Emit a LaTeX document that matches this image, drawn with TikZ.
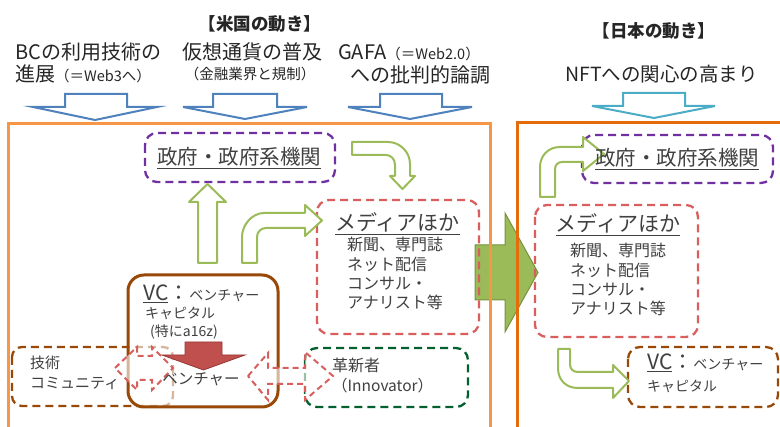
\documentclass[tikz,border=0pt]{standalone}
\usepackage{fontspec}
\setmainfont{Noto Sans CJK JP}
\newcommand{\myfs}[1]{\fontsize{#1}{#1}\selectfont}
\definecolor{arrblue}{RGB}{79,129,189}
\definecolor{arrcyan}{RGB}{75,172,198}
\definecolor{orgL}{RGB}{247,150,70}
\definecolor{orgR}{RGB}{228,108,10}
\definecolor{grn}{RGB}{155,187,89}
\definecolor{grnd}{RGB}{118,146,60}
\definecolor{purp}{RGB}{112,48,160}
\definecolor{redd}{RGB}{217,94,94}
\definecolor{brn}{RGB}{152,72,7}
\definecolor{dgrn}{RGB}{0,97,47}
\definecolor{redf}{RGB}{192,80,77}
\definecolor{redb}{RGB}{150,55,52}
\definecolor{txtc}{RGB}{38,38,38}
\definecolor{txti}{RGB}{64,64,64}
\begin{document}
\begin{tikzpicture}[x=1pt,y=-1pt,
  bluearr/.style={draw=arrblue, line width=2pt, line join=miter},
  grnarr/.style={draw=grn, line width=2pt, fill=white, line join=round},
  dbox/.style={line width=2.3pt, dash pattern=on 8pt off 5pt, rounded corners=12pt},
  dbl/.style={draw=redd, line width=2pt, dash pattern=on 6pt off 4pt, fill=white, fill opacity=0.6},
  txt/.style={inner sep=0pt, anchor=base west, text=txtc},
  itx/.style={inner sep=0pt, anchor=base west, text=txti},
]
\useasboundingbox (0,0) rectangle (780,427);
\clip (0,0) rectangle (780,427);
\fill[white] (0,0) rectangle (780,427);

% blue input arrows
\draw[bluearr] (65,94) -- (127,94) -- (127,107) -- (157,107) -- (95,120) -- (33,107) -- (65,107) -- cycle;
\draw[bluearr] (213,94) -- (277,94) -- (277,107) -- (307,107) -- (245,119) -- (183,107) -- (213,107) -- cycle;
\draw[bluearr] (380,94) -- (442,94) -- (442,107) -- (472,107) -- (410,119) -- (348,107) -- (380,107) -- cycle;
\draw[bluearr,draw=arrcyan] (623,93) -- (685,93) -- (685,106) -- (715,106) -- (654,118) -- (592,106) -- (623,106) -- cycle;

% big green arrow
\draw[fill=grn, draw=grnd, line width=1pt, line join=miter] (475,245) -- (505,245) -- (505,213) -- (538,272.5) -- (505,332) -- (505,300) -- (475,300) -- cycle;

% orange frames
\draw[orgL, line width=3pt] (8,124) rectangle (490,445);
\draw[orgR, line width=3pt] (517,123) rectangle (795,445);

% dashed boxes
\draw[dbox, purp] (145,133) rectangle (335,182);
\draw[dbox, redd] (317,200) rectangle (479,334);
\draw[dbox, purp] (582,135) rectangle (773,183);
\draw[dbox, redd] (535,205) rectangle (698,337);
\draw[dbox, dgrn] (305,348) rectangle (468,407);
\draw[dbox, brn] (628,347) rectangle (778,407);
\draw[dbox, brn, rounded corners=10pt] (12,347) rectangle (173,406);

% green outline arrows
\draw[grnarr] (198,263) -- (198,202) -- (189,202) -- (207.5,184) -- (226,202) -- (217,202) -- (217,263) -- cycle;
\draw[grnarr] (242,263) -- (242,237) .. controls (242,225) and (252,213) .. (264,213) -- (305,213) -- (305,205) -- (322,220.5) -- (305,236) -- (305,228) -- (266,228) .. controls (261,228) and (257,232) .. (257,237) -- (257,263) -- cycle;
\draw[grnarr] (352,142) -- (388,142) .. controls (400,142) and (410,152) .. (410,164) -- (410,176) -- (415,176) -- (402.5,189) -- (390,176) -- (395,176) -- (395,165) .. controls (395,159) and (391,155) .. (386,155) -- (352,155) -- cycle;
\draw[grnarr] (540,197) -- (540,167) .. controls (540,156) and (548,147) .. (560,147) -- (583,147) -- (583,137) -- (604,154) -- (583,171) -- (583,162) -- (562,162) .. controls (558,162) and (555,165) .. (555,169) -- (555,197) -- cycle;
\draw[grnarr] (558,349) -- (570,349) -- (570,364) .. controls (570,369) and (573,372) .. (578,372) -- (613,372) -- (613,365) -- (629,381) -- (613,398) -- (613,388) -- (578,388) .. controls (566,388) and (558,380) .. (558,368) -- cycle;

% VC box
\draw[brn, line width=3pt, rounded corners=16pt, fill=white, fill opacity=0.6] (128,275) rectangle (278,407);
% red down arrow
\draw[fill=redf, draw=redb, line width=0.8pt, line join=miter] (185,342) -- (222,342) -- (222,355) -- (245,355) -- (203.5,370) -- (162,355) -- (185,355) -- cycle;
% red double arrows
\draw[dbl] (115,368) -- (137,347) -- (137,356) -- (152,356) -- (152,347) -- (173,368) -- (152,390) -- (152,380) -- (137,380) -- (137,390) -- cycle;
\draw[dbl] (248,376) -- (268,353) -- (268,368) -- (305,368) -- (305,352) -- (333,376) -- (305,400) -- (305,384) -- (268,384) -- (268,400) -- cycle;

% top texts
\node[txt] (t1) at (15,60) {\myfs{20}BCの利用技術の};
\node[txt] (t2) at (15,82) {\myfs{20}進展\myfs{14.5}（＝Web3へ）};
\node[txt, anchor=base] (t3) at (260,31) {\myfs{17.5}\bfseries 【米国の動き】};
\node[txt] (t4) at (182,60) {\myfs{20}仮想通貨の普及};
\node[txt, anchor=base] (t5) at (250,80) {\myfs{14.5}（金融業界と規制）};
\node[txt] (t6) at (338,60) {\myfs{20}GAFA\myfs{14.5}（＝Web2.0）};
\node[txt] (t7) at (350,83) {\myfs{20}への批判的論調};
\node[txt, anchor=base] (t8) at (654,38) {\myfs{17.5}\bfseries 【日本の動き】};
\node[txt] (t9) at (565,82) {\myfs{19.5}NFTへの関心の高まり};

% inner texts
\node[itx, anchor=base] (g1) at (239,165) {\myfs{20.5}\underline{政府・政府系機関}};
\node[itx, anchor=base] (g2) at (677,166) {\myfs{20.5}\underline{政府・政府系機関}};

\node[itx, anchor=base] (m1) at (397.5,231) {\myfs{21}\underline{メディアほか}};
\node[itx] (m1a) at (347,251) {\myfs{16}新聞、専門誌};
\node[itx] (m1b) at (347,271) {\myfs{16}ネット配信};
\node[itx] (m1c) at (347,290) {\myfs{16}コンサル・};
\node[itx] (m1d) at (347,309) {\myfs{16}アナリスト等};

\node[itx, anchor=base] (m2) at (618,232) {\myfs{21}\underline{メディアほか}};
\node[itx] (m2a) at (570,257) {\myfs{16}新聞、専門誌};
\node[itx] (m2b) at (570,277) {\myfs{16}ネット配信};
\node[itx] (m2c) at (570,296) {\myfs{16}コンサル・};
\node[itx] (m2d) at (570,315) {\myfs{16}アナリスト等};

\node[itx] (vc1) at (143,301) {\myfs{21}\underline{VC}：\myfs{14}ベンチャー};
\node[itx] (vc2) at (145,319) {\myfs{14}キャピタル};
\node[itx] (vc3) at (150,337) {\myfs{14}(特にa16z)};
\node[itx, anchor=base] (vc4) at (201,385) {\myfs{15.5}ベンチャー};

\node[itx] (tc1) at (30,369) {\myfs{15}技術};
\node[itx] (tc2) at (30,389) {\myfs{15}コミュニティ};

\node[itx] (in1) at (332,372) {\myfs{16}革新者};
\node[itx] (in2) at (332,392) {\myfs{15.5}（Innovator）};

\node[itx] (vr1) at (647,370) {\myfs{21}\underline{VC}：\myfs{14}ベンチャー};
\node[itx] (vr2) at (647,392) {\myfs{14}キャピタル};
\end{tikzpicture}
\end{document}
